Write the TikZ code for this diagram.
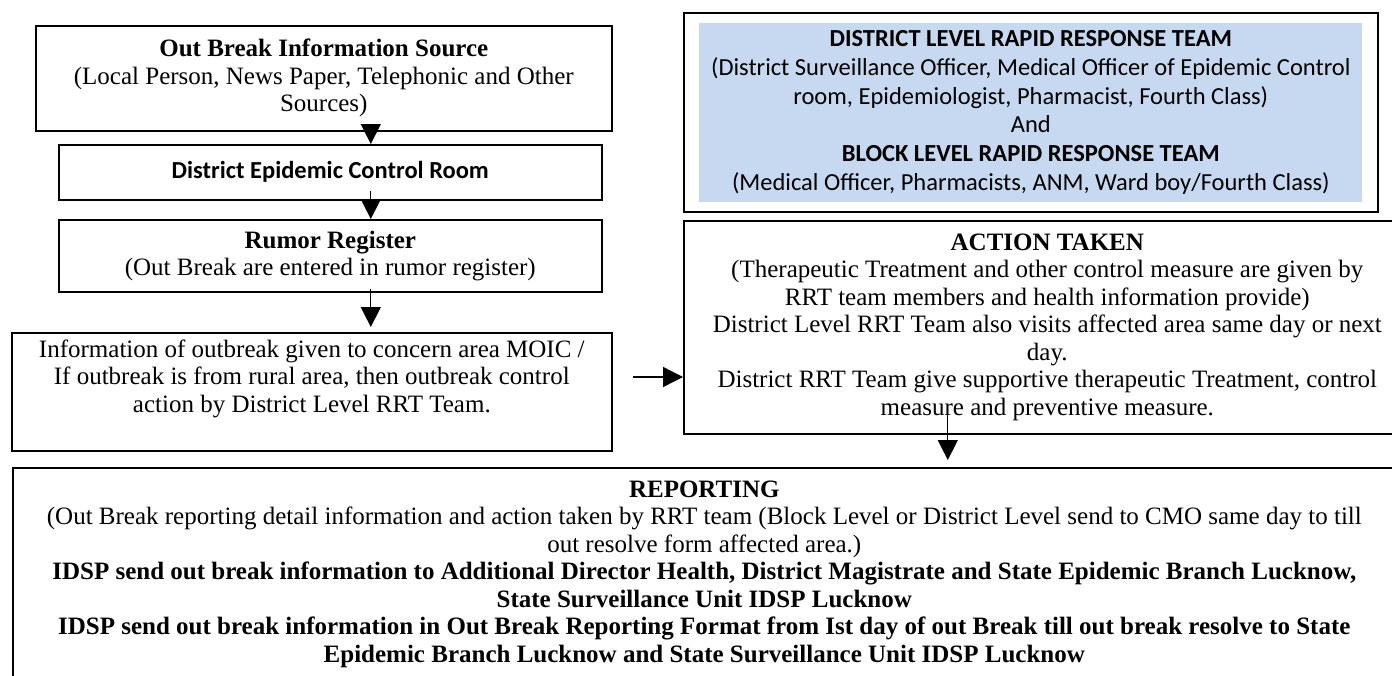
\documentclass[tikz,border=0pt]{standalone}
\usepackage{fontspec}
\setmainfont{Liberation Serif}
\newfontfamily\calibri{Carlito}
\usepackage{tikz}
\usetikzlibrary{arrows.meta,calc}
\definecolor{rrtblue}{RGB}{198,217,241}

\begin{document}
\begin{tikzpicture}[x=1pt,y=-1pt,
		box/.style={draw,line width=1.6pt,inner sep=0pt,anchor=north west,align=center},
		serif/.style={font=\fontsize{25}{27.5}\selectfont},
		sans/.style={font=\calibri\fontsize{24.5}{28.7}\selectfont},
		arr/.style={line width=1.3pt,-{Triangle[length=20pt,width=20pt]}}]
			\useasboundingbox (0,0) rectangle (1392,675);
			\clip (0,0) rectangle (1392,675);
			
			\node[box,serif,minimum width=576pt,minimum height=105pt](src)at(35,25) {\textbf{Out Break Information Source}\\(Local Person, News Paper, Telephonic and Other\\Sources)};
			\node[box,sans,minimum width=543pt,minimum height=55pt](ecr)at(58,144) {\textbf{District Epidemic Control Room}};
			\node[box,serif,minimum width=543pt,minimum height=72pt](rumor)at(58,219) {\textbf{Rumor Register}\\(Out Break are entered in rumor register)};
			\node[box,serif,minimum width=600pt,minimum height=118pt](info)at(11,332) {Information of outbreak given to concern area MOIC /\\If outbreak is from rural area, then outbreak control\\action by District Level RRT Team.\\[4pt]};
			\node[box,minimum width=694pt,minimum height=199pt](rrt)at(683,12) {};
			\node[sans,fill=rrtblue,align=center,inner sep=0pt,minimum width=663pt,minimum height=179pt](team)at(rrt.center) {\textbf{DISTRICT LEVEL RAPID RESPONSE TEAM}\\(District Surveillance Officer, Medical Officer of Epidemic Control\\room, Epidemiologist, Pharmacist, Fourth Class)\\And\\\textbf{BLOCK LEVEL RAPID RESPONSE TEAM}\\(Medical Officer, Pharmacists, ANM, Ward boy/Fourth Class)};
			\node[box,serif,minimum width=727pt,minimum height=213pt](action)at(683,220) {\textbf{ACTION TAKEN}\\(Therapeutic Treatment and other control measure are given by\\RRT team members and health information provide)\\District Level RRT Team also visits affected area same day or next\\day.\\District RRT Team give supportive therapeutic Treatment, control\\measure and preventive measure.};
			\node[box,serif,minimum width=1383pt,minimum height=213pt](report)at(12,467) {\textbf{REPORTING}\\(Out Break reporting detail information and action taken by RRT team (Block Level or District Level send to CMO same day to till\\out resolve form affected area.)\\\textbf{IDSP send out break information to Additional Director Health, District Magistrate and State Epidemic Branch Lucknow,}\\\textbf{State Surveillance Unit IDSP Lucknow}\\\textbf{IDSP send out break information in Out Break Reporting Format from Ist day of out Break till out break resolve to State}\\\textbf{Epidemic Branch Lucknow and State Surveillance Unit IDSP Lucknow}};
			\coordinate (feed) at (633,377);
			
			\draw[arr]([xshift=47pt,yshift=7pt]src.south) coordinate(a1) -- (a1 |- ecr.north);
			\draw[arr]([xshift=40.5pt,yshift=10pt]ecr.south) coordinate(a2) -- (a2 |- rumor.north);
			\draw[arr,shorten >=5pt]([xshift=40.5pt,yshift=4pt]rumor.south) coordinate(a3) -- (a3 |- info.north);
			\draw[arr](feed) -- (feed -| action.west);
			\draw[arr,shorten >=7pt]([xshift=-99.5pt,yshift=21pt]action.south) coordinate(a4) -- (a4 |- report.north);
		\end{tikzpicture}
\end{document}
